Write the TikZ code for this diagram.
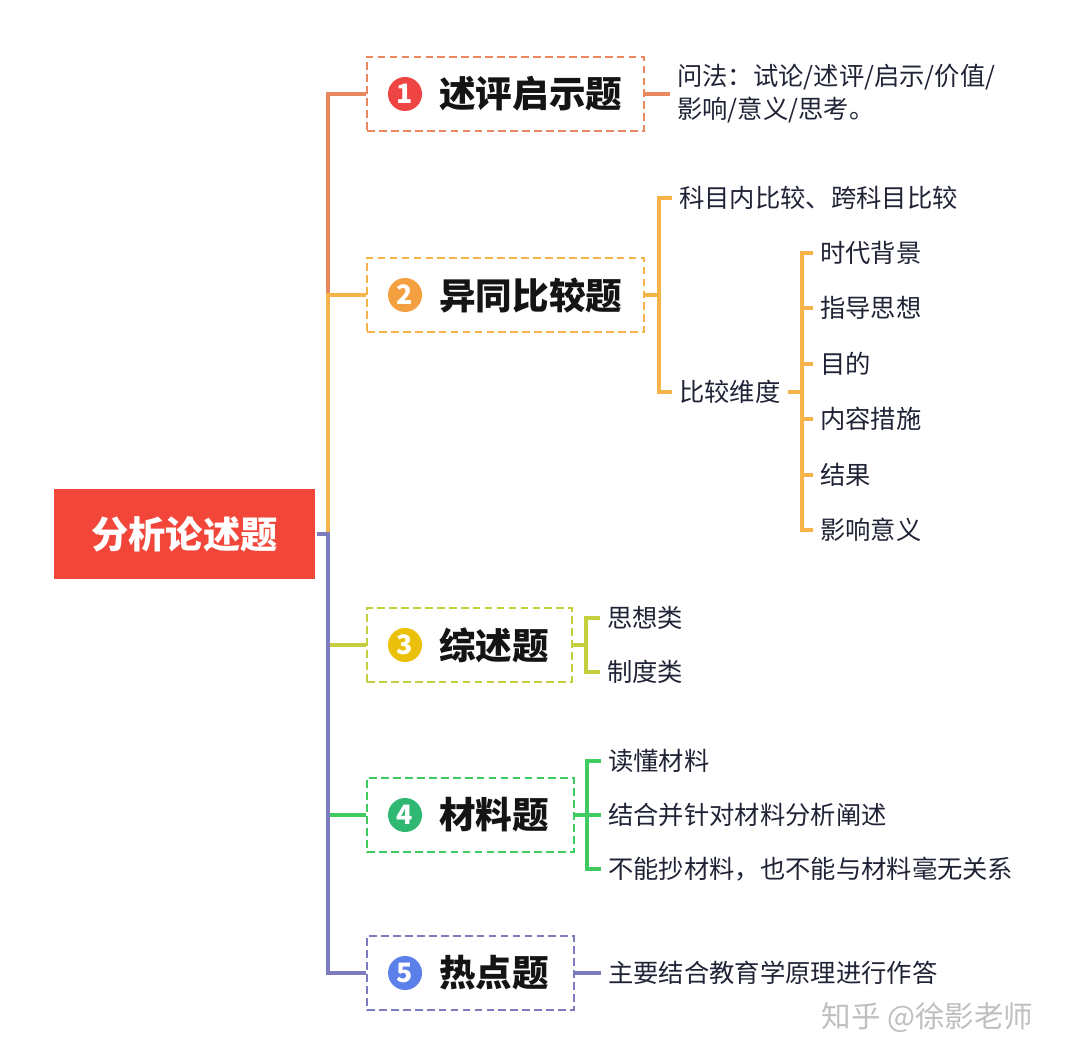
\documentclass[tikz,border=0pt]{standalone}
\usepackage{fontspec}
\setmainfont{Noto Sans CJK SC}
\newfontfamily\heavy{Noto Sans CJK SC Black}
\usetikzlibrary{positioning}

\definecolor{c1}{HTML}{E9875F}
\definecolor{c2}{HTML}{F5B349}
\definecolor{c3}{HTML}{C4CF3E}
\definecolor{c4}{HTML}{3FCB5F}
\definecolor{c5}{HTML}{7D7DBD}
\definecolor{k1}{HTML}{EE4444}
\definecolor{k2}{HTML}{F4A040}
\definecolor{k3}{HTML}{EBC00A}
\definecolor{k4}{HTML}{2EB872}
\definecolor{k5}{HTML}{5B80EA}
\definecolor{rootred}{HTML}{F2463A}
\definecolor{ink}{HTML}{1F2335}

\begin{document}
\begin{tikzpicture}[x=0.025cm,y=-0.025cm,line width=2.4pt]
    \tikzstyle{leaf}=[anchor=west,inner sep=4pt,text=ink,font=\fontsize{18}{23.4}\selectfont]
    \tikzstyle{box}=[draw,dash pattern=on 5.5pt off 3pt,line width=1.4pt,minimum height=1.85cm]
    \tikzstyle{num}=[circle,inner sep=0pt,minimum size=0.85cm,text=white,font=\fontsize{19}{19}\selectfont\heavy]
    \tikzstyle{title}=[inner sep=0pt,text=black!92,font=\fontsize{26}{30}\selectfont\heavy]

    \useasboundingbox (0,0) rectangle (1080,1062);

    % Draw the root node
    \node[fill=rootred,text=white,minimum width=6.525cm,minimum height=2.25cm,
          font=\fontsize{26.5}{30}\selectfont\heavy] (root) at (184.5,534) {分析论述题};

    % Draw the five question boxes
    \foreach \i/\y/\w in {1/94/277,2/295/277,3/645/205,4/815/207,5/973/207}
        \node[box,draw=c\i,minimum width=\w*0.025cm] (B-\i) at ({367+\w/2},\y) {};

    % Number circles and titles inside the boxes
    \foreach \i/\t in {1/述评启示题,2/异同比较题,3/综述题,4/材料题,5/热点题}
    {
        \node[num,fill=k\i] (N-\i) at ([xshift=0.975cm]B-\i.west) {\i};
        \node[title,right=0.35cm of N-\i] (T-\i) {\t};
    }

    % Connect the root with every box
    \coordinate (hub) at (328,534);
    \draw[c1] (hub |- B-2.west) |- (B-1.west);
    \draw[c2] (hub) |- (B-2.west);
    \draw[c3] (hub |- B-3.west) -- (B-3.west);
    \draw[c4] (hub |- B-4.west) -- (B-4.west);
    \draw[c5] (root.east) -- (hub) |- (B-5.west);

    % Box 1
    \node[leaf,align=left] (L-1) at (670,94) {问法：试论/述评/启示/价值/\\影响/意义/思考。};
    \draw[c1] (B-1.east) -- (B-1.east -| L-1.west);

    % Box 2
    \node[leaf] (L-2a) at (672,198) {科目内比较、跨科目比较};
    \node[leaf] (L-2b) at (672,392) {比较维度};
    \coordinate (J-2) at (659,295);
    \draw[c2] (B-2.east) -- (J-2);
    \draw[c2] (L-2a.west) -| (J-2) |- (L-2b.west);

    % The comparison dimensions
    \foreach \j/\y/\t in {1/253/时代背景,2/308/指导思想,3/364/目的,4/419/内容措施,5/475/结果,6/530/影响意义}
        \node[leaf] (D-\j) at (813,\y) {\t};
    \coordinate (J-D) at (802,392);
    \draw[c2] (L-2b.east) -- (J-D);
    \draw[c2] (D-1.west) -| (J-D) |- (D-6.west);
    \foreach \j in {2,...,5}
        \draw[c2] (J-D |- D-\j.west) -- (D-\j.west);

    % Box 3
    \node[leaf] (L-3a) at (600,618) {思想类};
    \node[leaf] (L-3b) at (600,672) {制度类};
    \coordinate (J-3) at (586,645);
    \draw[c3] (B-3.east) -- (J-3);
    \draw[c3] (L-3a.west) -| (J-3) |- (L-3b.west);

    % Box 4
    \node[leaf] (L-4a) at (601,761) {读懂材料};
    \node[leaf] (L-4b) at (601,815) {结合并针对材料分析阐述};
    \node[leaf] (L-4c) at (601,869) {不能抄材料，也不能与材料毫无关系};
    \coordinate (J-4) at (587,815);
    \draw[c4] (B-4.east) -- (L-4b.west);
    \draw[c4] (L-4a.west) -| (J-4) |- (L-4c.west);

    % Box 5
    \node[leaf] (L-5) at (601,973) {主要结合教育学原理进行作答};
    \draw[c5] (B-5.east) -- (L-5.west);

    % Watermark
    \node[anchor=west,inner sep=0pt,text=black!25,font=\fontsize{21}{21}\selectfont] (wm) at (820,1018) {知乎 @徐影老师};
\end{tikzpicture}
\end{document}
